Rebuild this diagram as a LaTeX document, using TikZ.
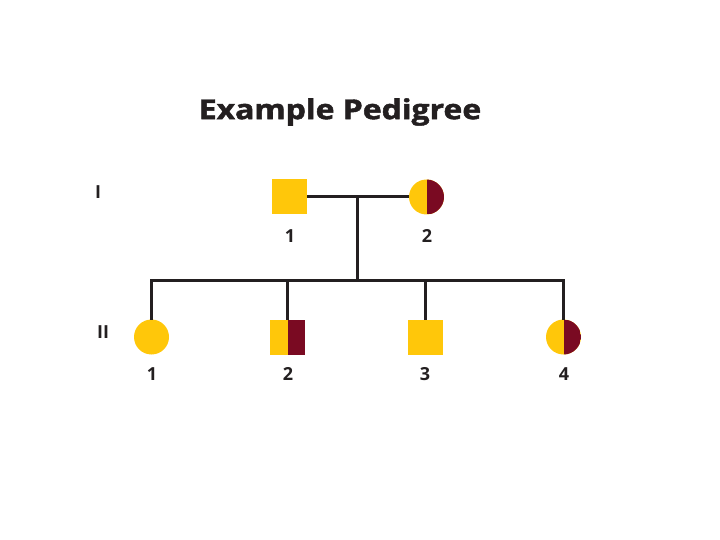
\documentclass[tikz,border=0pt]{standalone}
\usepackage{fontspec}
\setmainfont{Open Sans}
\newfontfamily\titlefont[FakeBold=1.6]{Open Sans Bold}
\definecolor{pyellow}{HTML}{FFC70A}
\definecolor{pmaroon}{HTML}{7A0A22}
\definecolor{pline}{HTML}{231F20}
\tikzset{
  ind/.style={inner sep=0pt, outer sep=0pt, minimum size=35pt, draw=none},
  male/.style={ind, rectangle, fill=pyellow},
  female/.style={ind, circle, fill=pyellow},
  carrier/.style={path picture={\fill[pmaroon] (path picture bounding box.south) rectangle (path picture bounding box.north east);}},
  lbl/.style={font=\bfseries\fontsize{18}{18}\selectfont, text=pline, inner sep=0pt},
  gen/.style={font=\bfseries\fontsize{18}{18}\selectfont, text=pline, inner sep=0pt},
  link/.style={draw=pline, line width=3pt},
}
\begin{document}
\begin{tikzpicture}[x=1pt, y=-1pt]
\useasboundingbox (0,0) rectangle (720,540);
\node[font=\titlefont\fontsize{27.5}{27.5}\selectfont, text=pline, inner sep=0pt] (title) at (340,112) {\scalebox{1.16}[1]{Example Pedigree}};
\node[gen] (g1) at (98,192) {I};
\node[gen] (g2) at (103,332) {II};
% generation I
\node[male] (p1) at (289.5,197) {};
\node[female, carrier] (p2) at (426.5,197) {};
\node[lbl] (l1) at (290,236) {1};
\node[lbl] (l2) at (427,236) {2};
% generation II
\node[female] (c1) at (151.5,337) {};
\node[male, carrier] (c2) at (287.5,337) {};
\node[male] (c3) at (425,337) {};
\node[female, carrier] (c4) at (563.5,337) {};
\node[lbl] (k1) at (152,374) {1};
\node[lbl] (k2) at (288,374) {2};
\node[lbl] (k3) at (425,374) {3};
\node[lbl] (k4) at (564,374) {4};
% connectors
\coordinate (mate) at (357,197);
\coordinate (sib) at (357,280.5);
\coordinate (sibL) at (151.5,280.5);
\coordinate (sibR) at (563.5,280.5);
\draw[link] (p1.east) -- (p2.west);
\draw[link] (mate) -- (sib);
\draw[link, line cap=rect] (sibL) -- (sibR);
\draw[link] (sibL) -- (c1.north);
\draw[link] (c2.north |- sib) -- (c2.north);
\draw[link] (c3.north |- sib) -- (c3.north);
\draw[link] (sibR) -- (c4.north);
\end{tikzpicture}
\end{document}
